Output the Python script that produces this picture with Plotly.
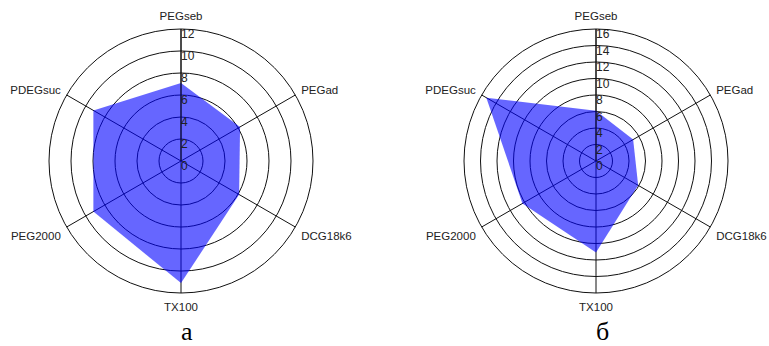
import plotly.graph_objects as go

# Spoke categories, clockwise from the top
categories = ["PEGseb", "PEGad", "DCG18k6", "TX100", "PEG2000", "PDEGsuc"]

# Values for panel "а" and panel "б"
values_a = [7.1, 6.2, 6.1, 11.1, 9.2, 9.2]
values_b = [6.1, 5.2, 5.9, 11.1, 10.3, 15.35]

# Radial ticks for each panel
ticks_a = [0, 2, 4, 6, 8, 10, 12]
ticks_b = [0, 2, 4, 6, 8, 10, 12, 14, 16]

panel_titles = ["а", "б"]

W, H = 769, 346
R = 132
centers = [(181, 161), (596, 161)]

fig = go.Figure()

panels = [("polar", values_a, ticks_a), ("polar2", values_b, ticks_b)]
for name, vals, ticks in panels:
    fig.add_trace(go.Scatterpolar(
        r=vals + vals[:1],
        theta=categories + categories[:1],
        mode="lines",
        fill="toself",
        fillcolor="rgba(0,0,255,0.6)",
        line=dict(width=0, color="rgba(0,0,255,0)"),
        subplot=name,
        showlegend=False,
        hoverinfo="skip",
    ))
    # radial tick labels, set just below each ring along the top spoke
    fig.add_trace(go.Scatterpolar(
        r=ticks,
        theta=[categories[0]] * len(ticks),
        mode="text",
        text=[str(t) for t in ticks],
        textposition="bottom right",
        textfont=dict(family="Liberation Sans, Arial", size=12, color="#222"),
        subplot=name,
        showlegend=False,
        hoverinfo="skip",
    ))


def polar_layout(cx, cy, ticks):
    x0 = (cx - R) / W
    x1 = (cx + R) / W
    y0 = (H - cy - R) / H
    y1 = (H - cy + R) / H
    return dict(
        domain=dict(x=[x0, x1], y=[y0, y1]),
        bgcolor="white",
        angularaxis=dict(
            type="category",
            categoryarray=categories,
            direction="clockwise",
            rotation=90,
            showline=True,
            linecolor="#111",
            linewidth=1,
            showgrid=True,
            gridcolor="#111",
            gridwidth=1,
            ticks="outside",
            ticklen=4,
            tickcolor="rgba(0,0,0,0)",
            tickfont=dict(family="Liberation Sans, Arial", size=11.5, color="#222"),
        ),
        radialaxis=dict(
            range=[0, ticks[-1]],
            tickvals=ticks,
            showticklabels=False,
            ticks="",
            showline=True,
            linecolor="#111",
            linewidth=1,
            angle=90,
            showgrid=True,
            gridcolor="#111",
            gridwidth=1,
        ),
    )


fig.update_layout(
    width=W,
    height=H,
    margin=dict(l=0, r=0, t=0, b=0),
    paper_bgcolor="white",
    plot_bgcolor="white",
    polar=polar_layout(*centers[0], ticks_a),
    polar2=polar_layout(*centers[1], ticks_b),
)

for (cx, cy), title in zip(centers, panel_titles):
    fig.add_annotation(
        x=(cx + 6) / W, y=(H - 331) / H,
        xref="paper", yref="paper",
        text=title, showarrow=False,
        font=dict(family="Liberation Serif, Times New Roman", size=26, color="#000"),
        xanchor="center", yanchor="middle",
    )

fig.write_html("out.html")
